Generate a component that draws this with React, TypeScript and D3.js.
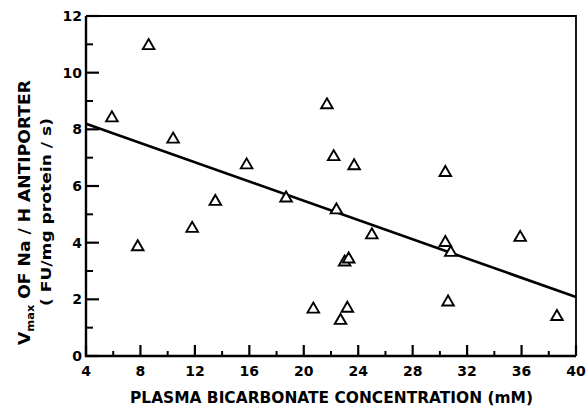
import React, { useEffect, useRef } from 'react';
import * as d3 from 'd3';

// values
const bicarbonate = [5.9, 8.6, 7.8, 10.4, 11.8, 13.5, 15.8, 18.7, 20.7, 21.7, 22.2, 22.4, 22.7, 23.0, 23.3, 23.2, 23.7, 25.0, 30.4, 30.4, 30.8, 30.6, 35.9, 38.6];
const vmax = [8.4, 10.95, 3.85, 7.65, 4.5, 5.45, 6.74, 5.57, 1.65, 8.86, 7.03, 5.15, 1.25, 3.31, 3.42, 1.68, 6.71, 4.27, 6.47, 4.0, 3.65, 1.9, 4.18, 1.39];
const fitX = [4, 40];
const fitY = [8.2, 2.08];
const xTicks = [4, 8, 12, 16, 20, 24, 28, 32, 36, 40];
const xMinor = [6, 10, 14, 18, 22, 26, 30, 34, 38];
const yTicks = [0, 2, 4, 6, 8, 10, 12];
const yMinor = [1, 3, 5, 7, 9, 11];

const font = '"DejaVu Sans", "Liberation Sans", Arial, sans-serif';

const App: React.FC = () => {
  const svgRef = useRef<SVGSVGElement>(null);

  useEffect(() => {
    if (!svgRef.current) return;
    const svg = d3.select(svgRef.current);
    svg.selectAll('*').remove();

    const left = 86, right = 576, top = 16, bottom = 356;
    const x = d3.scaleLinear().domain([4, 40]).range([left, right]);
    const y = d3.scaleLinear().domain([0, 12]).range([bottom, top]);

    const g = svg.append('g');

    // frame
    g.append('path')
      .attr('d', `M${left},${top}H${right}V${bottom}`)
      .attr('fill', 'none').attr('stroke', '#000').attr('stroke-width', 1.8);
    g.append('path')
      .attr('d', `M${left},${top}V${bottom}H${right}`)
      .attr('fill', 'none').attr('stroke', '#000').attr('stroke-width', 2.4);

    // ticks (inward)
    g.selectAll('.yt').data(yTicks).enter().append('line')
      .attr('x1', left).attr('x2', left + 13)
      .attr('y1', d => y(d)).attr('y2', d => y(d))
      .attr('stroke', '#000').attr('stroke-width', 2.2);
    g.selectAll('.ym').data(yMinor).enter().append('line')
      .attr('x1', left).attr('x2', left + 7)
      .attr('y1', d => y(d)).attr('y2', d => y(d))
      .attr('stroke', '#000').attr('stroke-width', 2);
    g.selectAll('.xt').data(xTicks).enter().append('line')
      .attr('x1', d => x(d)).attr('x2', d => x(d))
      .attr('y1', bottom).attr('y2', bottom - 11)
      .attr('stroke', '#000').attr('stroke-width', 2.2);
    g.selectAll('.xm').data(xMinor).enter().append('line')
      .attr('x1', d => x(d)).attr('x2', d => x(d))
      .attr('y1', bottom).attr('y2', bottom - 5)
      .attr('stroke', '#000').attr('stroke-width', 2);

    // tick labels
    g.selectAll('.yl').data(yTicks).enter().append('text')
      .attr('x', 82).attr('y', d => y(d)).attr('dy', '0.36em')
      .attr('text-anchor', 'end')
      .style('font-family', font).style('font-weight', 'bold').style('font-size', '14px')
      .text(d => d);
    g.selectAll('.xl').data(xTicks).enter().append('text')
      .attr('x', d => x(d)).attr('y', 376)
      .attr('text-anchor', 'middle')
      .style('font-family', font).style('font-weight', 'bold').style('font-size', '14px')
      .text(d => d);

    // axis titles
    g.append('text')
      .attr('x', 130).attr('y', 403)
      .attr('textLength', 403).attr('lengthAdjust', 'spacingAndGlyphs')
      .style('font-family', font).style('font-weight', 'bold').style('font-size', '15px')
      .text('PLASMA BICARBONATE CONCENTRATION (mM)');

    const t1 = g.append('text')
      .attr('transform', 'translate(30,345) rotate(-90)')
      .attr('textLength', 265).attr('lengthAdjust', 'spacingAndGlyphs')
      .style('font-family', font).style('font-weight', 'bold').style('font-size', '15px');
    t1.append('tspan').text('V');
    t1.append('tspan').attr('dy', 4).style('font-size', '10px').text('max');
    t1.append('tspan').attr('dy', -4).text(' OF Na / H ANTIPORTER');

    g.append('text')
      .attr('transform', 'translate(51,306) rotate(-90)')
      .attr('textLength', 188).attr('lengthAdjust', 'spacingAndGlyphs')
      .style('font-family', font).style('font-weight', 'bold').style('font-size', '14px')
      .text('( FU/mg protein / s)');

    // regression line
    const line = d3.line<number>().x((d, i) => x(fitX[i])).y(d => y(d));
    g.append('path')
      .attr('d', line(fitY))
      .attr('fill', 'none').attr('stroke', '#000').attr('stroke-width', 2.6);

    // points
    const tri = d3.symbol().type(d3.symbolTriangle).size(58);
    g.selectAll('.pt').data(bicarbonate).enter().append('path')
      .attr('d', tri()!)
      .attr('transform', (d, i) => `translate(${x(d)},${y(vmax[i])})`)
      .attr('fill', '#fff').attr('stroke', '#000').attr('stroke-width', 1.9)
      .attr('stroke-linejoin', 'miter');
  }, []);

  return (
    <svg
      ref={svgRef}
      width={587}
      height={406}
      style={{ position: 'absolute', left: 0, top: 0, background: '#fff' }}
    />
  );
};

export default App;
